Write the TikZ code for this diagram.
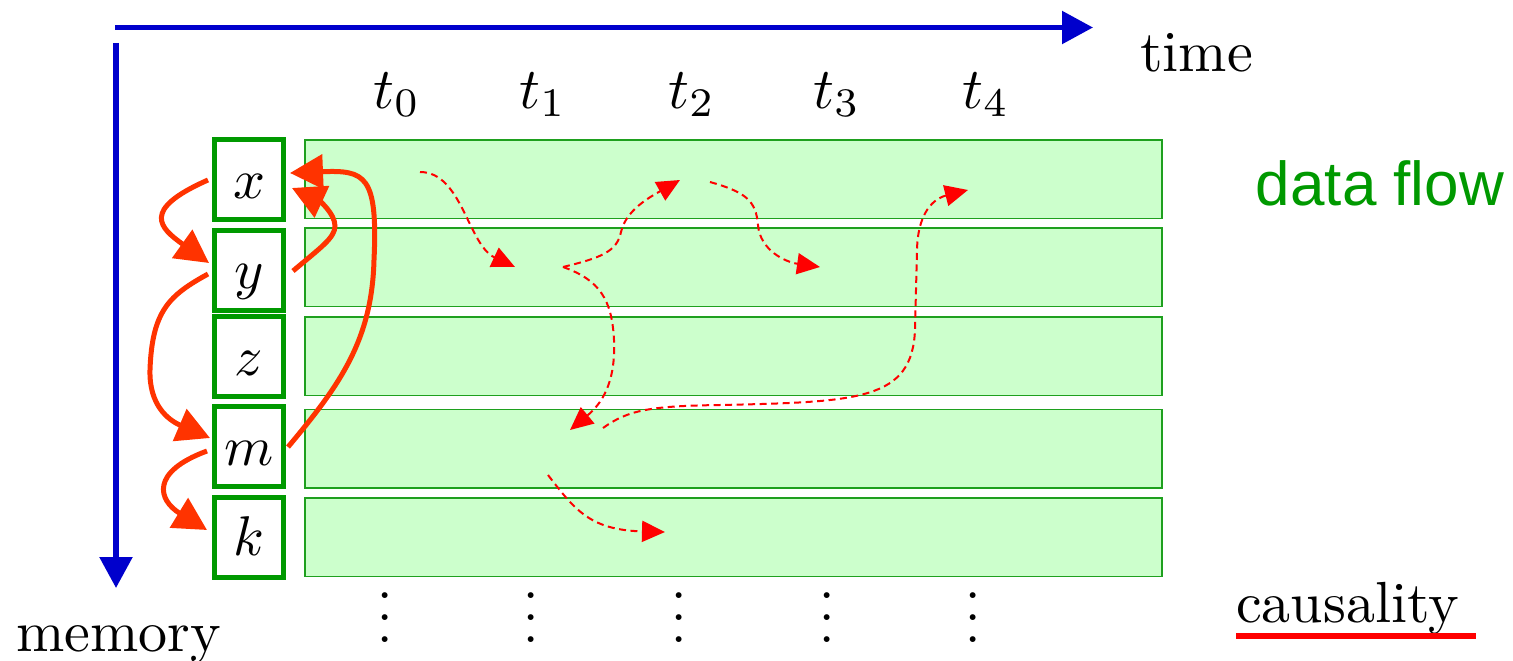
\documentclass[tikz,border=0pt]{standalone}
\usepackage{fontspec}
\newfontfamily\arialfont{Liberation Sans}
\usepackage{graphicx}
\usetikzlibrary{arrows.meta,calc}
\definecolor{axisblue}{RGB}{0,0,204}
\definecolor{cellgreen}{RGB}{0,153,0}
\definecolor{rowgreen}{RGB}{30,160,30}
\definecolor{rowfill}{RGB}{204,255,204}
\definecolor{causred}{RGB}{255,51,0}
\definecolor{flowred}{RGB}{255,0,0}
\definecolor{labelgreen}{RGB}{0,153,0}
\newcommand{\bigtxt}[1]{\scalebox{5.8}{#1}}
\newcommand{\celltxt}[1]{\scalebox{5.6}{#1}}
\begin{document}
\begin{tikzpicture}[x=1pt,y=-1pt,
  axis/.style={draw=axisblue,line width=5.5pt,-{Triangle[length=31pt,width=32pt]}},
  cell/.style={draw=cellgreen,line width=5pt,fill=white,minimum width=69pt,minimum height=80pt,inner sep=0pt,text height=37pt,text depth=0pt},
  row/.style={draw=rowgreen,line width=1.5pt,fill=rowfill,minimum width=857pt,minimum height=78.5pt,inner sep=0pt},
  big/.style={inner sep=0pt,anchor=base},
  cause/.style={draw=causred,line width=5pt,-{Triangle[length=33pt,width=34pt]}},
  flow/.style={draw=flowred,line width=2pt,dash pattern=on 7pt off 4.5pt,-{Triangle[length=23pt,width=21pt]}},
  vdot/.style={inner sep=0pt,anchor=south},
]
\useasboundingbox (0,0) rectangle (1513,661);

% axes
\coordinate (hs) at (115,27.5);
\coordinate (he) at (1093,27.5);
\coordinate (vs) at (116,43);
\coordinate (ve) at (116,588);
\draw[axis] (hs) -- (he);
\draw[axis] (vs) -- (ve);

% labels
\node[big] (time) at (1196.5,71) {\bigtxt{time}};
\node[big] (memory) at (118.5,651) {\bigtxt{memory}};
\node[big] (causality) at (1347.5,622) {\bigtxt{causality}};
\coordinate (ul1) at (1236,636);
\coordinate (ul2) at (1476,636);
\draw[draw=flowred,line width=6pt] (ul1) -- (ul2);
\node[inner sep=0pt,anchor=base,text=labelgreen,font=\arialfont\fontsize{62}{70}\selectfont] (dataflow) at (1380,205) {data flow};

\node[big] (t0) at (397,108) {\bigtxt{$t_0$}};
\node[big] (t1) at (543,108) {\bigtxt{$t_1$}};
\node[big] (t2) at (692,108) {\bigtxt{$t_2$}};
\node[big] (t3) at (837,108) {\bigtxt{$t_3$}};
\node[big] (t4) at (986,108) {\bigtxt{$t_4$}};

% rows
\node[row] (r1) at (733.5,179) {};
\node[row] (r2) at (733.5,267) {};
\node[row] (r3) at (733.5,356) {};
\node[row] (r4) at (733.5,448.5) {};
\node[row] (r5) at (733.5,537) {};

% memory cells
\node[cell] (cx) at (249,179.5) {\celltxt{$x$}};
\node[cell] (cy) at (249,270) {\celltxt{$y$}};
\node[cell] (cz) at (249,356.5) {\celltxt{$z$}};
\node[cell] (cm) at (249,446.5) {\celltxt{$m$}};
\node[cell] (ck) at (249,537) {\celltxt{$k$}};

% vertical dots
\node[vdot] (d0) at (385,643) {\scalebox{5.5}{$\vdots$}};
\node[vdot] (d1) at (531,643) {\scalebox{5.5}{$\vdots$}};
\node[vdot] (d2) at (679,643) {\scalebox{5.5}{$\vdots$}};
\node[vdot] (d3) at (827,643) {\scalebox{5.5}{$\vdots$}};
\node[vdot] (d4) at (973,643) {\scalebox{5.5}{$\vdots$}};

% causality arrows
\draw[cause] ([xshift=-4pt,yshift=-0.5pt]cx.west) .. controls (140,210) and (160,228) .. ([xshift=-3pt,yshift=7pt]cy.west);
\draw[cause] ([xshift=-4pt,yshift=-4pt]cy.west) .. controls (170,295) and (152,310) .. (150,370) .. controls (149,405) and (168,420) .. ([xshift=-2pt,yshift=8.5pt]cm.west);
\draw[cause] ([xshift=-5pt,yshift=-4.5pt]cm.west) .. controls (150,472) and (158,500) .. ([xshift=-5pt,yshift=7pt]ck.west);
\draw[cause] ([xshift=7pt,yshift=-1pt]cy.east) .. controls (320,248) and (335,238) .. (335,226) .. controls (335,213) and (318,200) .. ([xshift=6pt,yshift=-8.5pt]cx.east);
\draw[cause] ([xshift=2pt,yshift=-0.5pt]cm.east) .. controls (340,385) and (372,340) .. (374,260) .. controls (378,175) and (365,170) .. ([xshift=4pt,yshift=6.5pt]cx.east);

% data flow arrows
\coordinate (f1s) at (420,172);
\coordinate (f1e) at (515,267);
\coordinate (f2s) at (563,267);
\coordinate (f2e) at (680,180);
\coordinate (f3e) at (570,430);
\coordinate (f4s) at (710,182);
\coordinate (f4e) at (820,267);
\coordinate (f5s) at (603,428);
\coordinate (f5e) at (968,190);
\coordinate (f6s) at (548,475);
\coordinate (f6e) at (665,532);
\draw[flow] (f1s) .. controls (462,172) and (468,245) .. (f1e);
\draw[flow] (f2s) .. controls (600,258) and (617,252) .. (621,232) .. controls (626,210) and (650,197) .. (f2e);
\draw[flow] (f2s) .. controls (600,280) and (612,300) .. (614,340) .. controls (616,385) and (600,405) .. (f3e);
\draw[flow] (f4s) .. controls (745,192) and (756,200) .. (758,225) .. controls (760,250) and (785,262) .. (f4e);
\draw[flow] (f5s) .. controls (628,410) and (650,406) .. (720,405) .. controls (860,402) and (912,400) .. (915,330) -- (917,250) .. controls (918,205) and (940,197) .. (f5e);
\draw[flow] (f6s) .. controls (575,510) and (590,530) .. (f6e);
\end{tikzpicture}
\end{document}
